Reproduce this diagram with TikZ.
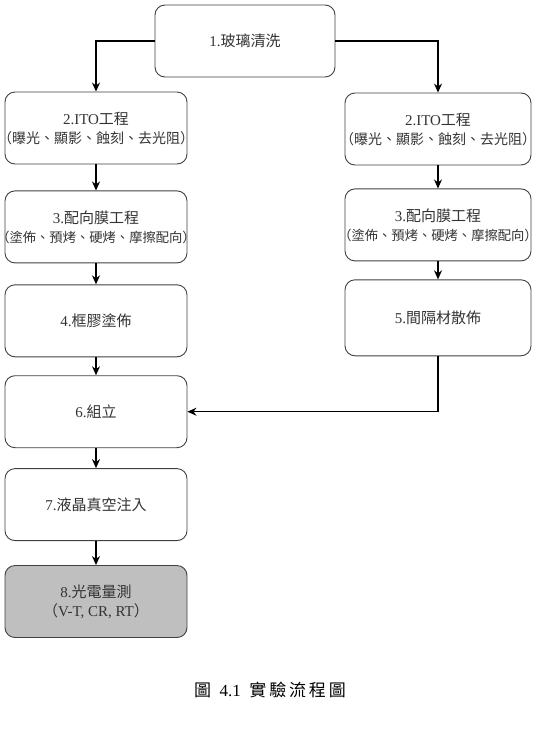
\documentclass[tikz,border=0pt]{standalone}
\usepackage{fontspec}
\setmainfont{Liberation Serif}
\newfontfamily\cjk{Noto Sans CJK TC}
\usetikzlibrary{positioning, arrows.meta}
\newcommand{\zh}[1]{{\cjk #1}}
\newcommand{\wide}[2]{\makebox[0pt]{\fontsize{#1}{19}\selectfont #2}}

\begin{document}
\begin{tikzpicture}[->,>={Stealth[length=9pt,width=8pt]},x=1pt,y=1pt,line width=1.3pt]
	\tikzstyle{stepbox}=[draw=black!75,line width=0.9pt,rounded corners=10pt,
		minimum width=182pt,minimum height=72pt,align=center,text=black!80,
		font=\fontsize{15}{19}\selectfont,inner sep=0pt]
	\useasboundingbox (0,0) rectangle (547,-742);
	\node[stepbox,minimum width=180pt] (b1) at (245,-41) {1.\zh{玻璃清洗}};
	\node[stepbox] (b2l) at (96,-128) {2.ITO\zh{工程}\\\wide{14}{\zh{（曝光、顯影、蝕刻、去光阻）}}};
	\node[stepbox,minimum width=186pt] (b2r) at (438,-129) {2.ITO\zh{工程}\\\wide{14}{\zh{（曝光、顯影、蝕刻、去光阻）}}};
	\node[stepbox] (b3l) [below=26pt of b2l] {3.\zh{配向膜工程}\\\wide{13.3}{\zh{（塗佈、預烤、硬烤、摩擦配向）}}};
	\node[stepbox,minimum width=186pt] (b3r) [below=23pt of b2r] {3.\zh{配向膜工程}\\\wide{13.3}{\zh{（塗佈、預烤、硬烤、摩擦配向）}}};
	\node[stepbox] (b4) [below=21pt of b3l] {4.\zh{框膠塗佈}};
	\node[stepbox,minimum width=186pt,minimum height=76pt] (b5) [below=18pt of b3r] {5.\zh{間隔材散佈}};
	\node[stepbox] (b6) [below=18pt of b4] {6.\zh{組立}};
	\node[stepbox] (b7) [below=20pt of b6] {7.\zh{液晶真空注入}};
	\node[stepbox,fill=black!25] (b8) [below=24pt of b7] {8.\zh{光電量測}\\\zh{（}V-T, CR, RT\zh{）}};
	\node[font=\fontsize{17}{20}\selectfont] (cap) at (270,-690) {\zh{圖}\ \ 4.1\ \ \zh{實\,驗\,流\,程\,圖}};

	\draw (b1.west) -| (b2l.north);
	\draw (b1.east) -| (b2r.north);
	\path
		(b2l) edge (b3l)
		(b3l) edge (b4)
		(b4)  edge (b6)
		(b6)  edge (b7)
		(b7)  edge (b8)
		(b2r) edge (b3r)
		(b3r) edge (b5);
	\draw (b5.south) |- (b6.east);
\end{tikzpicture}
\end{document}
